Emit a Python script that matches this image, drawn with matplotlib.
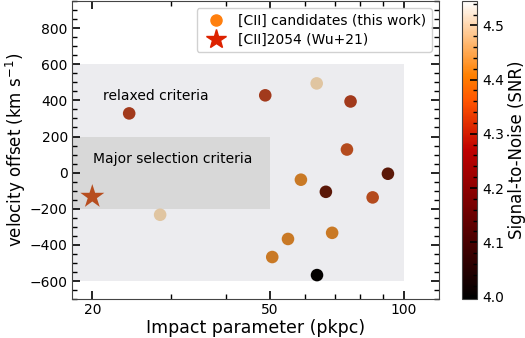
import numpy as np
import matplotlib
matplotlib.use("Agg")
import matplotlib.pyplot as plt
from matplotlib.colors import Normalize, LinearSegmentedColormap
from matplotlib.lines import Line2D
from matplotlib.ticker import FixedLocator, FixedFormatter, NullFormatter, MultipleLocator

# [CII] candidates: impact parameter (pkpc), velocity offset (km/s), SNR
impact = [24.2, 48.9, 63.8, 76.0, 74.6, 92.2, 58.8, 66.9, 85.2, 55.0, 69.1, 50.7, 63.9, 28.4]
velocity = [328, 428, 494, 394, 128, -6, -39, -106, -137, -367, -333, -467, -567, -233]
snr = [4.27, 4.27, 4.50, 4.27, 4.32, 4.15, 4.40, 4.15, 4.32, 4.40, 4.40, 4.40, 4.00, 4.50]

# [CII]2054 (Wu+21)
wu_impact = [20.0]
wu_velocity = [-133]
wu_snr = [4.33]

snr_min, snr_max = 3.995, 4.545

# muted heat colours used for the markers
marker_cmap = LinearSegmentedColormap.from_list("muted_heat", [
    (0.0, "#000000"),
    (0.28, "#5a1808"),
    (0.50, "#a33a1c"),
    (0.62, "#b9501f"),
    (0.74, "#c97a25"),
    (0.92, "#e0c4a0"),
    (1.0, "#f2e4d2"),
])
norm = Normalize(vmin=snr_min, vmax=snr_max)

fig = plt.figure(figsize=(5.25, 3.38), dpi=100)
ax = fig.add_axes((0.137, 0.115, 0.699, 0.882))
cax = fig.add_axes((0.880, 0.115, 0.029, 0.882))

# selection regions
ax.fill_between([10, 100], -600, 600, color="#ececef", zorder=0, lw=0)
ax.fill_between([10, 50], -200, 200, color="#d8d8d8", zorder=0.5, lw=0)
ax.text(21.1, 422, "relaxed criteria", fontsize=10, va="center", ha="left")
ax.text(20.1, 78, "Major selection criteria", fontsize=10, va="center", ha="left")

ax.scatter(impact, velocity, c=snr, cmap=marker_cmap, norm=norm, s=82,
           edgecolors="none", zorder=3)
ax.scatter(wu_impact, wu_velocity, c=wu_snr, cmap=marker_cmap, norm=norm,
           marker="*", s=330, edgecolors="none", zorder=3)

ax.set_xscale("log")
ax.set_xlim(18.0, 120)
ax.set_ylim(-700, 950)
ax.xaxis.set_major_locator(FixedLocator([20, 50, 100]))
ax.xaxis.set_minor_locator(FixedLocator([30, 40, 60, 70, 80, 90]))
ax.xaxis.set_major_formatter(FixedFormatter(["20", "50", "100"]))
ax.xaxis.set_minor_formatter(NullFormatter())
ax.yaxis.set_major_locator(MultipleLocator(200))
ax.yaxis.set_minor_locator(MultipleLocator(50))
ax.tick_params(which="both", direction="in", top=True, right=True, labelsize=10)
ax.tick_params(which="major", length=6, width=1.2, pad=3)
ax.tick_params(which="minor", length=3.5, width=1.0)
for sp in ax.spines.values():
    sp.set_color("#444444")

ax.set_xlabel("Impact parameter (pkpc)", fontsize=12.5, labelpad=1)
ax.set_ylabel(r"velocity offset ($\rm km\ s^{-1}$)", fontsize=12, labelpad=1)

handles = [
    Line2D([], [], ls="none", marker="o", color="#ff7f0e", markersize=8),
    Line2D([], [], ls="none", marker="*", color="#dd2200", markersize=15),
]
ax.legend(handles, ["[CII] candidates (this work)", "[CII]2054 (Wu+21)"],
          loc="upper right", fontsize=10, handletextpad=0.6,
          borderpad=0.4, labelspacing=0.35, framealpha=0.9)

sm = plt.cm.ScalarMappable(norm=norm, cmap="gist_heat")
cb = fig.colorbar(sm, cax=cax)
cb.set_ticks([4.0, 4.1, 4.2, 4.3, 4.4, 4.5])
cb.ax.yaxis.set_minor_locator(MultipleLocator(0.02))
cb.ax.tick_params(which="both", direction="in", labelsize=10)
cb.ax.tick_params(which="major", length=5, width=1.2)
cb.ax.tick_params(which="minor", length=3, width=1.0)
cb.outline.set_edgecolor("#444444")
cb.set_label("Signal-to-Noise (SNR)", fontsize=12, labelpad=3)

fig.savefig("out.png", dpi=100)
